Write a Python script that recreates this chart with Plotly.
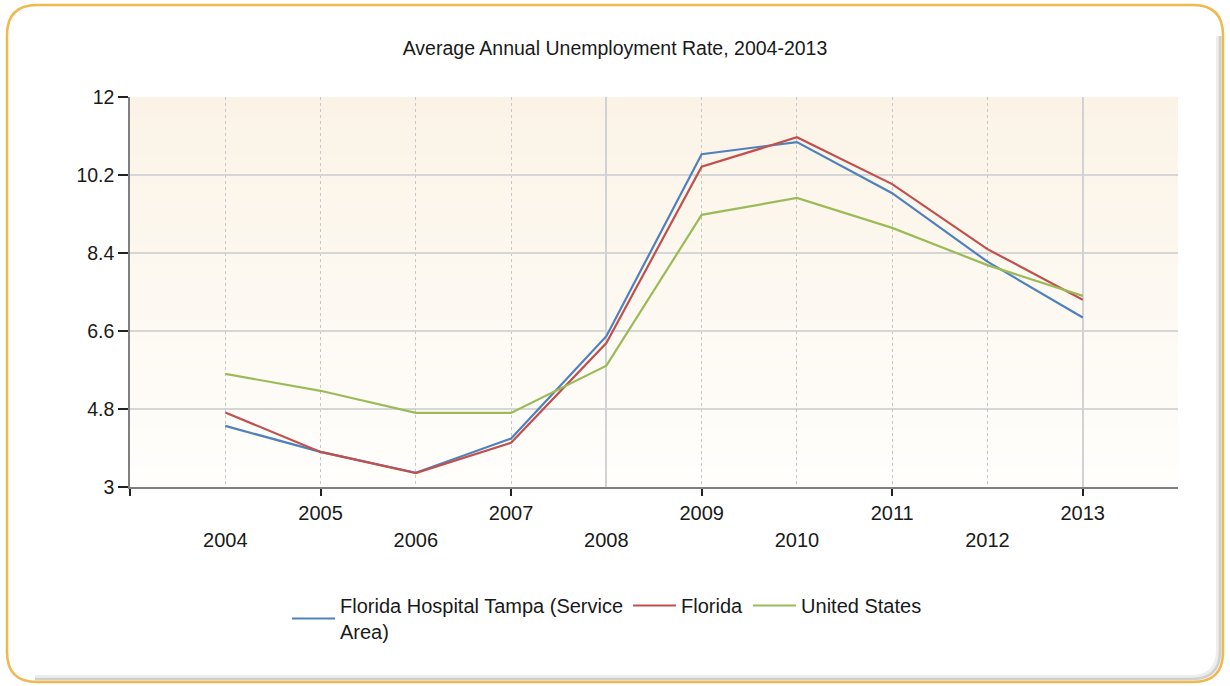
import plotly.graph_objects as go

# ---------------- data ----------------
years = [2004, 2005, 2006, 2007, 2008, 2009, 2010, 2011, 2012, 2013]
fht_service_area = [4.41, 3.81, 3.33, 4.12, 6.48, 10.68, 10.96, 9.78, 8.20, 6.91]
florida = [4.72, 3.81, 3.32, 4.02, 6.32, 10.39, 11.07, 9.99, 8.49, 7.32]
united_states = [5.61, 5.22, 4.71, 4.71, 5.80, 9.28, 9.67, 8.98, 8.12, 7.41]
series_names = ["Florida Hospital Tampa (Service<br>Area)", "Florida", "United States"]
y_tickvals = [3, 4.8, 6.6, 8.4, 10.2, 12]
y_ticktext = ["3", "4.8", "6.6", "8.4", "10.2", "12"]
title_text = "Average Annual Unemployment Rate, 2004-2013"

# ---------------- style ----------------
W, H = 1230, 686
colors = ["#4F81BD", "#C0504D", "#9BBB59"]
FONT = "Liberation Sans Narrow, Arial Narrow, Liberation Sans, Arial, sans-serif"
TXT = "#1a1a1a"

def px(x):
    return x / W

def py(y):
    return 1 - y / H

plot_l, plot_r, plot_t, plot_b = 130, 1178, 97, 487

fig = go.Figure()
for name, vals, col in zip(series_names, [fht_service_area, florida, united_states], colors):
    fig.add_trace(go.Scatter(x=years, y=vals, name=name, mode="lines",
                             line=dict(color=col, width=2.2), hoverinfo="x+y+name"))

# empty helper traces so the overlay axes are drawn
fig.add_trace(go.Scatter(x=[], y=[], xaxis="x2", showlegend=False, hoverinfo="skip"))
fig.add_trace(go.Scatter(x=[], y=[], xaxis="x3", showlegend=False, hoverinfo="skip"))

x_lo, x_hi = years[0] - 1, years[-1] + 1
odd_years = years[1::2]
even_years = years[0::2]

TICK_SIZE = 20

fig.update_layout(
    width=W, height=H, autosize=False,
    margin=dict(l=0, r=0, t=0, b=0, pad=0),
    paper_bgcolor="white",
    plot_bgcolor="rgba(0,0,0,0)",
    font=dict(family=FONT, color=TXT, size=20),
    title=dict(text=title_text, x=0.5, xanchor="center", xref="paper",
               y=py(48), yanchor="middle", yref="paper", automargin=False,
               font=dict(family=FONT, size=19.5, color=TXT)),
    xaxis=dict(domain=[px(plot_l), px(plot_r)], range=[x_lo, x_hi], automargin=False,
               tickmode="array",
               tickvals=[x_lo] + odd_years,
               ticktext=[""] + [str(y) for y in odd_years],
               ticks="outside", ticklen=7, tickwidth=1.5, tickcolor="#222",
               showline=True, linecolor="#7f7f7f", linewidth=1.5,
               showgrid=True, gridcolor="#c8c8c8", gridwidth=1, griddash="dot",
               zeroline=False, tickfont=dict(size=TICK_SIZE, color=TXT, family=FONT)),
    xaxis2=dict(overlaying="x", anchor="y", side="bottom", range=[x_lo, x_hi],
                automargin=False,
                tickmode="array",
                tickvals=even_years + [x_hi],
                ticktext=[str(y) for y in even_years] + [""],
                ticks="", showline=False, ticklabelstandoff=39,
                showgrid=True, gridcolor="#c8c8c8", gridwidth=1, griddash="dot",
                zeroline=False, tickfont=dict(size=TICK_SIZE, color=TXT, family=FONT)),
    xaxis3=dict(overlaying="x", anchor="y", side="bottom", range=[x_lo, x_hi],
                automargin=False,
                tickmode="array", tickvals=[2008, 2013], showticklabels=False,
                ticks="", showline=False,
                showgrid=True, gridcolor="#d2d2d2", gridwidth=1.5, zeroline=False),
    yaxis=dict(domain=[py(plot_b), py(plot_t)], range=[y_tickvals[0], y_tickvals[-1]],
               automargin=False,
               tickmode="array", tickvals=y_tickvals, ticktext=y_ticktext,
               ticks="outside", ticklen=10, tickwidth=1.5, tickcolor="#222",
               showline=True, linecolor="#7f7f7f", linewidth=1.5,
               showgrid=True, gridcolor="#d6d6d6", gridwidth=1.5,
               zeroline=False, tickfont=dict(size=19.5, color=TXT, family=FONT)),
    legend=dict(orientation="h", x=px(287), xanchor="left", y=py(586), yanchor="top",
                font=dict(size=20, color=TXT, family=FONT), bgcolor="rgba(0,0,0,0)",
                traceorder="normal", itemwidth=43),
    showlegend=True,
)

# plot-area gradient (beige at top to near-white at bottom)
shapes = []
n = 40
top_rgb = (251, 243, 230)
bot_rgb = (255, 254, 252)
for i in range(n):
    t = i / (n - 1)
    r = round(top_rgb[0] + (bot_rgb[0] - top_rgb[0]) * t)
    g = round(top_rgb[1] + (bot_rgb[1] - top_rgb[1]) * t)
    b = round(top_rgb[2] + (bot_rgb[2] - top_rgb[2]) * t)
    y0 = plot_t + (plot_b - plot_t) * i / n
    y1 = plot_t + (plot_b - plot_t) * (i + 1) / n
    shapes.append(dict(type="rect", xref="paper", yref="paper",
                       x0=px(plot_l), x1=px(plot_r), y0=py(y1 + 0.5), y1=py(y0),
                       fillcolor=f"rgb({r},{g},{b})", line=dict(width=0), layer="below"))

def rounded_rect(x0, y0, x1, y1, rad):
    return (f"M {px(x0 + rad)},{py(y0)} L {px(x1 - rad)},{py(y0)} "
            f"Q {px(x1)},{py(y0)} {px(x1)},{py(y0 + rad)} "
            f"L {px(x1)},{py(y1 - rad)} Q {px(x1)},{py(y1)} {px(x1 - rad)},{py(y1)} "
            f"L {px(x0 + rad)},{py(y1)} Q {px(x0)},{py(y1)} {px(x0)},{py(y1 - rad)} "
            f"L {px(x0)},{py(y0 + rad)} Q {px(x0)},{py(y0)} {px(x0 + rad)},{py(y0)} Z")

def shadow_path(x0, y0, x1, y1, rad):
    return (f"M {px(x1)},{py(y0 + rad)} L {px(x1)},{py(y1 - rad)} "
            f"Q {px(x1)},{py(y1)} {px(x1 - rad)},{py(y1)} L {px(x0 + rad)},{py(y1)}")

# inner shadow along right and bottom
shapes.append(dict(type="path", xref="paper", yref="paper",
                   path=shadow_path(7, 8, 1219, 678, 28),
                   line=dict(color="rgba(0,0,0,0.07)", width=6), layer="above"))
shapes.append(dict(type="path", xref="paper", yref="paper",
                   path=shadow_path(7, 8, 1220, 679, 28),
                   line=dict(color="rgba(0,0,0,0.12)", width=2.5), layer="above"))
# golden rounded frame
shapes.append(dict(type="path", xref="paper", yref="paper",
                   path=rounded_rect(7, 5, 1223, 682, 30),
                   line=dict(color="#F0B84E", width=2.5), layer="above"))

fig.update_layout(shapes=shapes)

fig.write_html("out.html",
               config={"displayModeBar": False},
               post_script="document.body.style.margin='0px';document.body.style.padding='0px';")
